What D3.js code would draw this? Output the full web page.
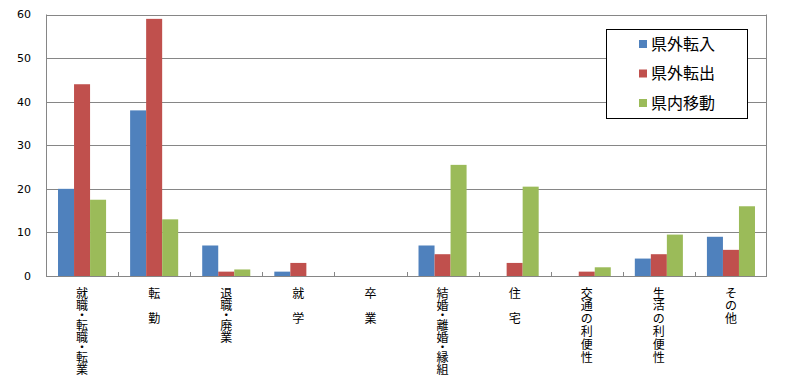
<!DOCTYPE html>
<html>
<head>
<meta charset="UTF-8">
<title>移動理由別 人数</title>
<style>
	body { margin: 0; background: #fff; }
	svg { display: block; }
	.ytick { font-family: "DejaVu Sans", sans-serif; font-size: 11px; fill: #000; }
	.xlab { font-family: "Noto Sans CJK JP", sans-serif; font-size: 12px; fill: #000; }
	.leg { font-family: "Noto Sans CJK JP", sans-serif; font-size: 16px; fill: #000; }
</style>
</head>
<body>
<div id="chart"></div>
<script src="https://cdn.jsdelivr.net/npm/d3@7/dist/d3.min.js"></script>
<script>

	// Data
	let categories = ["就職・転職・転業", "転　勤", "退職・廃業", "就　学", "卒　業",
		"結婚・離婚・縁組", "住　宅", "交通の利便性", "生活の利便性", "その他"];
	let seriesNames = ["県外転入", "県外転出", "県内移動"];
	let kengaiTennyu = [20, 38, 7, 1, 0, 7, 0, 0, 4, 9];
	let kengaiTenshutsu = [44, 59, 1, 3, 0, 5, 3, 1, 5, 6];
	let kennaiIdou = [17.5, 13, 1.5, 0, 0, 25.5, 20.5, 2, 9.5, 16];
	let yTicks = [0, 10, 20, 30, 40, 50, 60];

	let colors = ["#4F81BD", "#C0504D", "#9BBB59"];
	let allSeries = [kengaiTennyu, kengaiTenshutsu, kennaiIdou];

	let width = 793, height = 387;
	let plot = {left: 46, right: 767, top: 14.5, bottom: 276};

	let svg = d3.select("#chart").append("svg")
		.attr("width", width)
		.attr("height", height);

	let x0 = d3.scaleBand()
		.domain(categories)
		.range([plot.left, plot.right])
		.paddingInner(0).paddingOuter(0);

	let x1 = d3.scaleBand()
		.domain(seriesNames)
		.range([0, x0.bandwidth()])
		.paddingInner(0).paddingOuter(0.75);

	let y = d3.scaleLinear()
		.domain([0, 60])
		.range([plot.bottom, plot.top]);

	// gridlines
	svg.append("g")
		.selectAll("line")
		.data(yTicks.filter(d => d > 0))
		.enter()
		.append("line")
		.attr("x1", plot.left).attr("x2", plot.right)
		.attr("y1", d => Math.round(y(d)) + 0.5)
		.attr("y2", d => Math.round(y(d)) + 0.5)
		.attr("stroke", "#868686")
		.attr("stroke-width", 1);

	// bars
	let rows = categories.map((c, i) => ({cat: c, vals: allSeries.map(s => s[i])}));

	svg.append("g")
		.selectAll("g")
		.data(rows)
		.enter()
		.append("g")
		.attr("transform", d => "translate(" + x0(d.cat) + ",0)")
		.selectAll("rect")
		.data(d => d.vals.map((v, j) => ({name: seriesNames[j], v: v, j: j})))
		.enter()
		.append("rect")
		.attr("x", d => x1(d.name))
		.attr("width", x1.bandwidth())
		.attr("y", d => y(d.v))
		.attr("height", d => y(0) - y(d.v))
		.attr("fill", d => colors[d.j]);

	// plot border (left axis, right edge, bottom axis)
	svg.append("line")
		.attr("x1", plot.left + 0.5).attr("x2", plot.left + 0.5)
		.attr("y1", y(60)).attr("y2", plot.bottom)
		.attr("stroke", "#868686");
	svg.append("line")
		.attr("x1", plot.right - 0.5).attr("x2", plot.right - 0.5)
		.attr("y1", y(60)).attr("y2", plot.bottom)
		.attr("stroke", "#868686");
	svg.append("line")
		.attr("x1", plot.left).attr("x2", plot.right)
		.attr("y1", plot.bottom + 0.5).attr("y2", plot.bottom + 0.5)
		.attr("stroke", "#868686");

	// x ticks (inside, at category boundaries)
	svg.append("g")
		.selectAll("line")
		.data(categories.slice(1))
		.enter()
		.append("line")
		.attr("x1", d => Math.round(x0(d)) + 0.5)
		.attr("x2", d => Math.round(x0(d)) + 0.5)
		.attr("y1", plot.bottom - 4).attr("y2", plot.bottom)
		.attr("stroke", "#868686");

	// y tick labels
	svg.append("g")
		.selectAll("text")
		.data(yTicks)
		.enter()
		.append("text")
		.attr("class", "ytick")
		.attr("x", 31)
		.attr("y", d => y(d))
		.attr("dy", "0.35em")
		.attr("text-anchor", "end")
		.text(d => d);

	// x labels, stacked one character per line; the middle dot only takes half a line
	function stackChars(label) {
		let out = [], top = 287;
		Array.from(label).forEach(ch => {
			if (ch == "・") {
				out.push({ch: ch, cat: label, base: top + 7.6});
				top += 6.4;
			} else {
				out.push({ch: ch, cat: label, base: top + 10.5});
				top += 12.8;
			}
		});
		return out;
	}

	let xl = svg.append("g")
		.selectAll("text")
		.data(categories)
		.enter()
		.append("text")
		.attr("class", "xlab")
		.attr("text-anchor", "middle");

	xl.selectAll("tspan")
		.data(d => stackChars(d))
		.enter()
		.append("tspan")
		.attr("x", d => x0(d.cat) + x0.bandwidth() / 2)
		.attr("y", d => d.base)
		.text(d => d.ch);

	// legend
	let leg = svg.append("g");
	leg.append("rect")
		.attr("x", 606.5).attr("y", 29.5)
		.attr("width", 141).attr("height", 89)
		.attr("fill", "#fff")
		.attr("stroke", "#000");

	let items = leg.selectAll("g")
		.data(seriesNames)
		.enter()
		.append("g")
		.attr("transform", (d, i) => "translate(639," + (44 + i * 29.5) + ")");

	items.append("rect")
		.attr("x", 0).attr("y", -4)
		.attr("width", 8).attr("height", 8)
		.attr("fill", (d, i) => colors[i]);

	items.append("text")
		.attr("class", "leg")
		.attr("x", 12)
		.attr("y", 0)
		.attr("dy", "0.36em")
		.text(d => d);

</script>
</body>
</html>
